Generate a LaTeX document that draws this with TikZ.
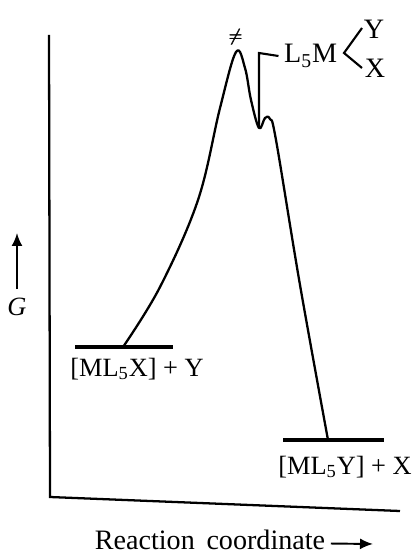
\documentclass[tikz,border=0pt]{standalone}
\usepackage{amsmath,amssymb}
\usepackage{fontspec}
\setmainfont{Liberation Serif}
\usetikzlibrary{arrows.meta,positioning,calc}
\tikzset{
  en/axis/.style={line width=1.3pt},
  en/level/.style={line width=2.8pt},
  en/curve/.style={line width=1.3pt, line join=round},
  en/label/.style={font=\fontsize{15}{18}\selectfont, inner sep=1pt},
  en/small/.style={font=\fontsize{16}{18}\selectfont, inner sep=1pt},
  arr/.style={-{Latex[length=2.6mm,width=2.2mm]},line width=1.1pt}
}

\begin{document}
\begin{tikzpicture}[x=0.02cm, y=-0.02cm]
  \useasboundingbox (0,0) rectangle (418,557);

  % axes
  \coordinate (ytop) at (49,35);
  \coordinate (origin) at (50,497);
  \coordinate (xend) at (400,511);
  \draw[en/axis] (ytop) -- (origin) -- (xend);

  % G axis label
  \node[en/label, font=\fontsize{15}{18}\selectfont\itshape] (G) at (17,307) {G};
  \coordinate (Gtip) at (17,233);
  \draw[arr] ([yshift=4pt]G.north) -- (Gtip);

  % reaction coordinate label
  \node[en/label, font=\fontsize{16}{18}\selectfont] (rc) at (210,540) {Reaction\, coordinate};
  \coordinate (rctip) at (373,544);
  \draw[arr] ([xshift=2pt,yshift=-2pt]rc.east) -- (rctip);

  % levels
  \coordinate (lfta) at (75,347);
  \coordinate (lftb) at (173,347);
  \coordinate (rgta) at (283,440);
  \coordinate (rgtb) at (384,440);
  \draw[en/level] (lfta) -- (lftb);
  \draw[en/level] (rgta) -- (rgtb);
  \node[en/label] (react) at (137,369) {[ML\textsubscript{5}X] + Y};
  \node[en/label] (prod) at (345,467) {[ML\textsubscript{5}Y] + X};

  % energy profile
  \coordinate (start) at (123,347);
  \coordinate (ts) at (236,52);
  \coordinate (inter) at (259,128);
  \coordinate (stop) at (328,440);
  \draw[en/curve] plot[smooth, tension=0.6] coordinates {
    (123,347) (160,287) (198,200) (220,108) (236,52)
    (245,68) (251,100) (259,128) (265,118) (270,119) (276,140) (300,285) (328,440)};

  % transition state and intermediate
  \node[font=\normalsize] (tsmark) at (236,37) {$\pmb{\neq}$};
  \node[en/small, anchor=west] (l5m) at (282,56) {L\textsubscript{5}M};
  \coordinate (brk) at (259,53);
  \draw[line width=1.2pt] (inter) -- (brk) -- ([xshift=-2pt]l5m.west);
  \coordinate (chtop) at (362,28);
  \coordinate (chapex) at (344,53);
  \coordinate (chbot) at (362,68);
  \draw[line width=1.2pt] (chtop) -- (chapex) -- (chbot);
  \node[en/small] (ylig) at (374,29) {Y};
  \node[en/small] (xlig) at (375,68) {X};
\end{tikzpicture}
\end{document}
